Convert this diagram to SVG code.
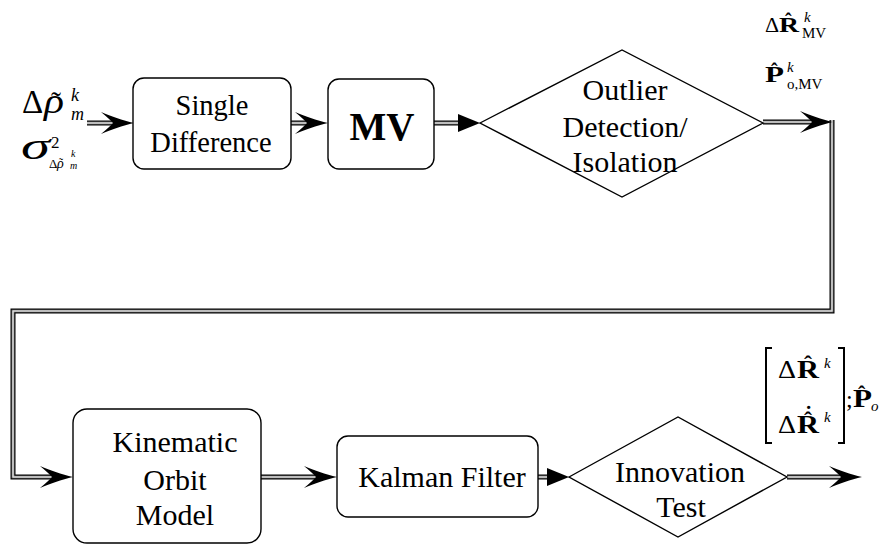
<svg xmlns="http://www.w3.org/2000/svg" width="881" height="546" viewBox="0 0 881 546">
  <style>
    .box { fill:#fff; stroke:#000; stroke-width:1.4; }
    .m { font-family:'Liberation Serif', serif; fill:#000; }
    .c { text-anchor:middle; }
    .it { font-style:italic; }
    .bd { font-weight:bold; }
    .c1 { fill:none; stroke:#000; stroke-width:5; }
    .c2 { fill:none; stroke:#9a9a9a; stroke-width:2.6; }
    .c3 { fill:none; stroke:#fff; stroke-width:0.7; }
    .brk { fill:none; stroke:#000; stroke-width:2; }
  </style>
  <defs>
    <marker id="barb" markerUnits="userSpaceOnUse" markerWidth="36" markerHeight="24" refX="13" refY="11" orient="auto" overflow="visible">
      <path d="M34,11 C23,8.5 10,4 1,0 C7,5 11,8.5 13,11 C11,13.5 7,17 1,22 C10,18 23,13.5 34,11Z" fill="#000"/>
    </marker>
    <marker id="tri" markerUnits="userSpaceOnUse" markerWidth="24" markerHeight="20" refX="0" refY="9" orient="auto" overflow="visible">
      <path d="M0,0 L22,9 L0,18Z" fill="#000"/>
    </marker>
  </defs>

  <!-- connectors: each drawn as black / grey / white layers for the double-line look -->
  <g id="connectors">
    <g class="c1">
      <path d="M87,123 H113"/>
      <path d="M291,123 H307"/>
      <path d="M434,123 H458"/>
      <path d="M763,122 H812"/>
      <path d="M832,120 V311 H13 V477 H52"/>
      <path d="M261,477 H316"/>
      <path d="M538,477 H547"/>
      <path d="M787,477 H841"/>
    </g>
    <g class="c2">
      <path d="M87,123 H113"/>
      <path d="M291,123 H307"/>
      <path d="M434,123 H458"/>
      <path d="M763,122 H812"/>
      <path d="M832,120 V311 H13 V477 H52"/>
      <path d="M261,477 H316"/>
      <path d="M538,477 H547"/>
      <path d="M787,477 H841"/>
    </g>
    <g class="c3">
      <path d="M87,123 H113" marker-end="url(#barb)"/>
      <path d="M291,123 H307" marker-end="url(#barb)"/>
      <path d="M434,123 H458" marker-end="url(#tri)"/>
      <path d="M763,122 H812" marker-end="url(#barb)"/>
      <path d="M832,120 V311 H13 V477 H52" marker-end="url(#barb)"/>
      <path d="M261,477 H316" marker-end="url(#barb)"/>
      <path d="M538,477 H547" marker-end="url(#tri)"/>
      <path d="M787,477 H841" marker-end="url(#barb)"/>
    </g>
  </g>

  <!-- input quantities -->
  <g id="input">
    <text class="m" x="22" y="113" font-size="33">Δ</text>
    <text class="m it" x="44" y="113" font-size="35" textLength="20" lengthAdjust="spacingAndGlyphs">ρ</text>
    <text class="m" x="51" y="112" font-size="30">˜</text>
    <text class="m it" x="71" y="101" font-size="18">k</text>
    <text class="m it" x="71" y="120" font-size="18">m</text>
    <text class="m it" x="21" y="159" font-size="38" textLength="29" lengthAdjust="spacingAndGlyphs">σ</text>
    <text class="m" x="51" y="148" font-size="17">2</text>
    <text class="m" x="49" y="168" font-size="13">Δ</text>
    <text class="m it" x="57" y="168" font-size="14">ρ</text>
    <text class="m" x="59" y="167" font-size="12">˜</text>
    <text class="m it" x="71" y="157" font-size="10">k</text>
    <text class="m it" x="70" y="169" font-size="10">m</text>
  </g>

  <!-- process blocks -->
  <g font-size="30">
    <g id="single-difference">
      <rect class="box" x="133" y="78" width="158" height="91" rx="11"/>
      <text class="m c" x="212" y="115" font-size="28.5">Single</text>
      <text class="m c" x="211" y="152" font-size="28.5">Difference</text>
    </g>

    <g id="mv">
      <rect class="box" x="328" y="79" width="106" height="90" rx="11"/>
      <text class="m c bd" x="382" y="140" font-size="39">MV</text>
    </g>

    <g id="outlier-detection">
      <polygon class="box" points="480,123 622,50 763,123 622,197"/>
      <text class="m c" x="625" y="100">Outlier</text>
      <text class="m c" x="625" y="137">Detection/</text>
      <text class="m c" x="625" y="172">Isolation</text>
    </g>

    <g id="kinematic-orbit-model">
      <rect class="box" x="73" y="409" width="188" height="134" rx="14"/>
      <text class="m c" x="175" y="452">Kinematic</text>
      <text class="m c" x="175" y="490">Orbit</text>
      <text class="m c" x="175" y="525">Model</text>
    </g>

    <g id="kalman-filter">
      <rect class="box" x="337" y="436" width="201" height="81" rx="11"/>
      <text class="m c" x="442" y="487">Kalman Filter</text>
    </g>

    <g id="innovation-test">
      <polygon class="box" points="569,477 678,417 787,477 678,537"/>
      <text class="m c" x="680" y="482">Innovation</text>
      <text class="m c" x="681" y="517">Test</text>
    </g>
  </g>

  <!-- estimates after outlier screening -->
  <g id="mv-output">
    <text class="m" x="765" y="32" font-size="22">Δ</text>
    <text class="m bd" x="779" y="32" font-size="22" textLength="20" lengthAdjust="spacingAndGlyphs">R</text>
    <text class="m bd" x="785" y="28" font-size="20">ˆ</text>
    <text class="m it" x="804" y="22" font-size="15">k</text>
    <text class="m" x="802" y="38" font-size="15">MV</text>
    <text class="m bd" x="765" y="82" font-size="23" textLength="19" lengthAdjust="spacingAndGlyphs">P</text>
    <text class="m bd" x="771" y="78" font-size="20">ˆ</text>
    <text class="m it" x="787" y="72" font-size="15">k</text>
    <text class="m" x="787" y="89" font-size="15">o,MV</text>
  </g>

  <!-- final state and covariance -->
  <g id="final-output">
    <path class="brk" d="M772,348 H766 V443 H772"/>
    <path class="brk" d="M838,348 H844 V443 H838"/>
    <text class="m" x="778" y="378" font-size="25" textLength="18" lengthAdjust="spacingAndGlyphs">Δ</text>
    <text class="m bd" x="797" y="378" font-size="25" textLength="22" lengthAdjust="spacingAndGlyphs">R</text>
    <text class="m bd" x="804" y="372" font-size="24">ˆ</text>
    <text class="m it" x="824" y="368" font-size="15">k</text>
    <text class="m" x="778" y="433" font-size="25" textLength="18" lengthAdjust="spacingAndGlyphs">Δ</text>
    <text class="m bd" x="797" y="433" font-size="25" textLength="22" lengthAdjust="spacingAndGlyphs">R</text>
    <text class="m bd" x="804" y="428" font-size="24">ˆ</text>
    <text class="m bd" x="805" y="421" font-size="22">˙</text>
    <text class="m it" x="824" y="422" font-size="15">k</text>
    <text class="m" x="846" y="407" font-size="24">;</text>
    <text class="m bd" x="853" y="407" font-size="25" textLength="19" lengthAdjust="spacingAndGlyphs">P</text>
    <text class="m bd" x="858" y="401" font-size="22">ˆ</text>
    <text class="m it" x="871" y="411" font-size="15">o</text>
  </g>
</svg>
